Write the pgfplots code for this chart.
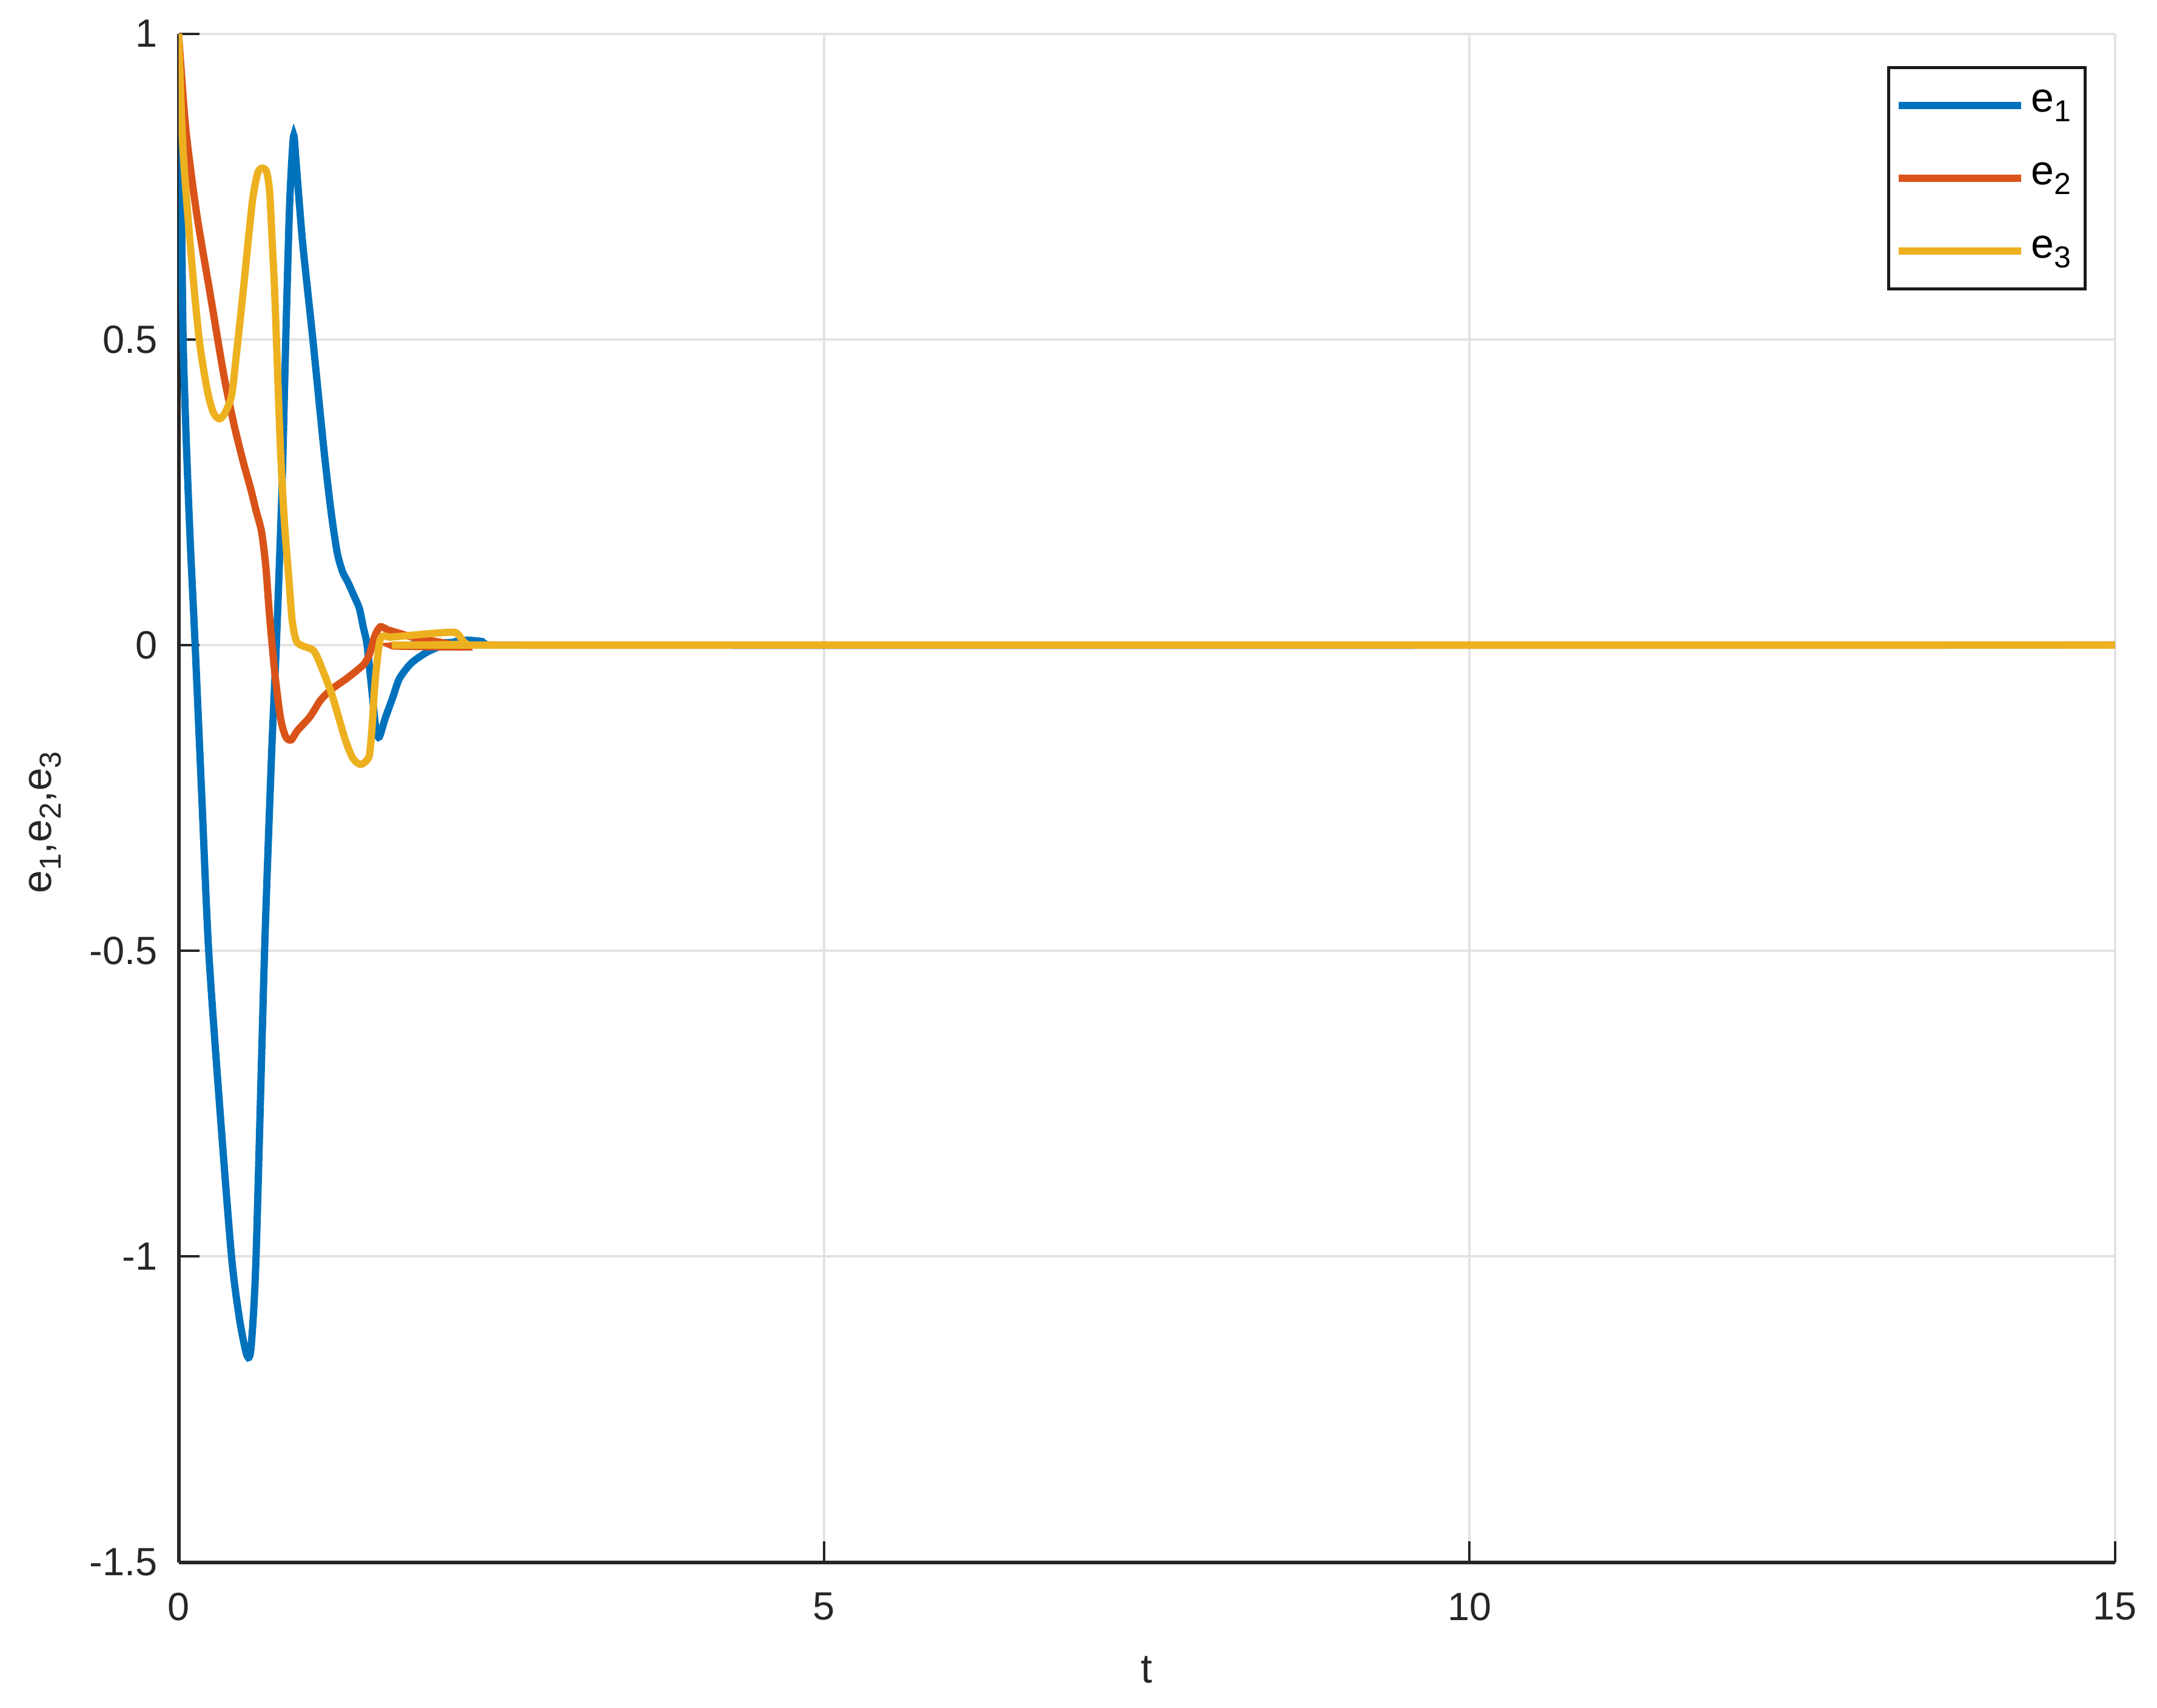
\documentclass[border=0pt]{standalone}
\usepackage{pgfplots}
\pgfplotsset{compat=1.18}
\usepackage{fontspec}
\setmainfont{Liberation Sans}
\definecolor{mblue}{rgb}{0,0.447,0.741}
\definecolor{mred}{rgb}{0.85,0.325,0.098}
\definecolor{myellow}{rgb}{0.929,0.694,0.125}
\newcommand{\sub}[1]{\raisebox{-0.45ex}{\fontsize{5}{6}\selectfont #1}}
\begin{document}
\begin{tikzpicture}
\begin{axis}[
  scale only axis,
  width=319.8pt, height=252.5pt,
  xmin=0, xmax=15, ymin=-1.5, ymax=1,
  xtick={0,5,10,15},
  ytick={-1.5,-1,-0.5,0,0.5,1},
  yticklabels={-1.5,-1,-0.5,0,0.5,1},
  axis x line*=bottom, axis y line*=left,
  axis line style={-, black!85, line width=0.6pt},
  tick align=inside,
  major tick length=3.5pt,
  tick style={black!85, line width=0.4pt},
  grid=major,
  major grid style={gray!22, line width=0.4pt},
  /pgf/number format/assume math mode=true,
  ticklabel style={font=\fontsize{6.5}{7.5}\selectfont, text=black!85},
  xticklabel style={yshift=-1.5pt},
  xlabel={t},
  ylabel={e\sub{1},e\sub{2},e\sub{3}},
  every axis x label/.style={at={(axis description cs:0.5,-0.0701)}, anchor=center,
     font=\fontsize{6.8}{8}\selectfont, text=black!85},
  every axis y label/.style={at={(axis description cs:-0.069,0.484)}, rotate=90, anchor=center,
     font=\fontsize{6.8}{8}\selectfont, text=black!85},
  legend style={at={(1,1)}, anchor=north east, xshift=-4.7pt, yshift=-5.4pt,
    draw=black!90, line width=0.5pt, font=\fontsize{6.8}{7.5}\selectfont,
    inner xsep=0.3pt, inner ysep=1.6pt, row sep=2.9pt,
    /tikz/every even column/.append style={column sep=0pt}},
  legend cell align=left,
  legend image code/.code={\path[draw=none, fill=none] (1.8pt,-0.1pt) rectangle (2pt,0.1pt);
     \draw[#1] (3.2pt,0pt) -- (23.4pt,0pt);},
  clip=true,
]
\addplot[mblue, line width=1.2pt, smooth, tension=0.45] coordinates {
(0,1.0) (0.02,0.75) (0.035,0.5) (0.06,0.33) (0.09,0.17) (0.128,0)
(0.18,-0.25) (0.233,-0.5) (0.32,-0.76) (0.41,-1.0) (0.47,-1.10)
(0.52,-1.155) (0.545,-1.165) (0.565,-1.14) (0.60,-1.0) (0.666,-0.5)
(0.72,-0.18) (0.757,0) (0.80,0.25) (0.83,0.5) (0.86,0.72) (0.89,0.832)
(0.91,0.79) (0.96,0.66) (1.04,0.5) (1.123,0.325) (1.18,0.22) (1.228,0.152)
(1.27,0.12) (1.311,0.103) (1.36,0.08) (1.40,0.06) (1.43,0.03) (1.46,0.0)
(1.50,-0.08) (1.53,-0.14) (1.555,-0.15) (1.60,-0.12) (1.66,-0.085)
(1.71,-0.055) (1.80,-0.03) (1.92,-0.012) (2.05,0.0) (2.2,0.008)
(2.35,0.006) (2.6,0.0) (15,0)
};
\addlegendentry{\hspace*{-0.9pt}e\sub{1}}
\addplot[mred, line width=1.2pt, smooth, tension=0.45] coordinates {
(0,1.0) (0.055,0.846) (0.139,0.707) (0.244,0.575) (0.349,0.443) (0.43,0.36)
(0.50,0.30) (0.558,0.256) (0.60,0.22) (0.642,0.186) (0.675,0.13) (0.705,0.047)
(0.746,-0.047) (0.79,-0.12) (0.83,-0.15) (0.872,-0.155) (0.92,-0.14)
(1.018,-0.117) (1.10,-0.09) (1.186,-0.072) (1.30,-0.055) (1.395,-0.039)
(1.44,-0.03) (1.479,-0.015) (1.52,0.015) (1.563,0.030) (1.62,0.025)
(1.70,0.02) (1.814,0.013) (2.02,0.005) (2.23,-0.003) (2.4,0.0) (15,0)
};
\addlegendentry{\hspace*{-0.9pt}e\sub{2}}
\addplot[myellow, line width=1.2pt, smooth, tension=0.45] coordinates {
(0,1.0) (0.034,0.811) (0.097,0.638) (0.16,0.499) (0.223,0.416) (0.27,0.38)
(0.317,0.37) (0.36,0.38) (0.411,0.409) (0.45,0.48) (0.495,0.568)
(0.569,0.721) (0.61,0.77) (0.642,0.78) (0.68,0.775) (0.705,0.742)
(0.725,0.66) (0.746,0.568) (0.788,0.325) (0.82,0.2) (0.851,0.117)
(0.88,0.04) (0.914,0.006) (0.97,-0.002) (1.04,-0.008) (1.081,-0.023)
(1.186,-0.080) (1.29,-0.154) (1.35,-0.185) (1.406,-0.195) (1.45,-0.19)
(1.479,-0.179) (1.50,-0.13) (1.521,-0.063) (1.563,0.01) (1.646,0.013)
(1.80,0.016) (2.02,0.020) (2.15,0.02) (2.23,0.002) (2.4,0.0) (15,0)
};
\addlegendentry{\hspace*{-0.9pt}e\sub{3}}
\end{axis}
\path ([shift={(-29.5pt,-24pt)}]current axis.south west) rectangle ([shift={(6.4pt,5pt)}]current axis.north east);
\end{tikzpicture}
\end{document}
